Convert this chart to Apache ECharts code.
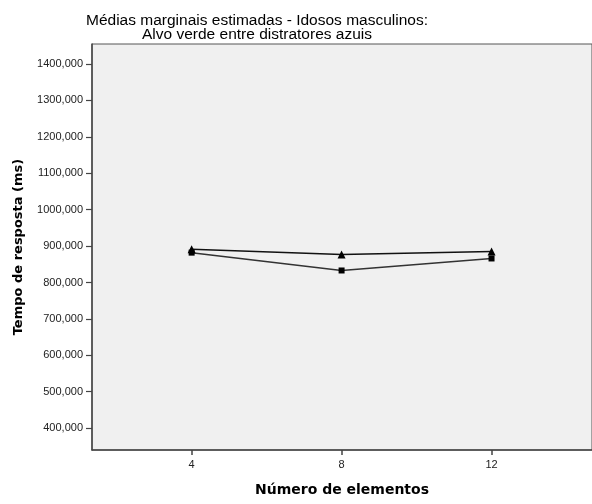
<!DOCTYPE html>
<html>
<head>
<meta charset="utf-8">
<script src="https://cdn.jsdelivr.net/npm/echarts@6/dist/echarts.min.js"></script>
<style>
  html, body { margin: 0; padding: 0; background: #fff; }
  #chart { width: 592px; height: 504px; }
</style>
</head>
<body>
<div id="chart"></div>
<script>
// Number of elements on screen
const elementCounts = [4, 8, 12];
// Estimated marginal means of response time (ms), one line per group
const seriesTriangle = [891, 877, 885];
const seriesSquare = [882, 833, 866];
// Axis ticks
const yTicks = [400, 500, 600, 700, 800, 900, 1000, 1100, 1200, 1300, 1400];
const xTicks = [4, 8, 12];

const fmt = v => v + ',000';
const chart = echarts.init(document.getElementById('chart'));

chart.setOption({
  animation: false,
  backgroundColor: '#ffffff',
  title: {
    text: 'Médias marginais estimadas - Idosos masculinos:\nAlvo verde entre distratores azuis',
    left: 252,
    top: 9,
    textAlign: 'center',
    textStyle: {
      fontFamily: 'Liberation Sans, Arial, sans-serif',
      fontSize: 15.5,
      fontWeight: 'normal',
      color: '#000',
      lineHeight: 14
    }
  },
  grid: {
    left: 92, right: -2, top: 44, bottom: 54,
    show: true,
    backgroundColor: '#f0f0f0',
    borderColor: '#555',
    borderWidth: 1
  },
  xAxis: {
    type: 'value',
    min: 1.342,
    max: 14.68,
    name: 'Número de elementos',
    nameLocation: 'middle',
    nameGap: 33,
    nameTextStyle: {
      fontFamily: 'DejaVu Sans, sans-serif',
      fontSize: 14,
      fontWeight: 'bold',
      color: '#000'
    },
    splitLine: { show: false },
    axisLine: { show: true, lineStyle: { color: '#444', width: 1.5 } },
    axisTick: { show: true, customValues: xTicks, length: 5, lineStyle: { color: '#444', width: 1.5 } },
    axisLabel: {
      customValues: xTicks,
      margin: 9,
      fontFamily: 'Liberation Sans, Arial, sans-serif',
      fontSize: 11,
      color: '#222'
    }
  },
  yAxis: {
    type: 'value',
    min: 340,
    max: 1455,
    name: 'Tempo de resposta (ms)',
    nameLocation: 'middle',
    nameGap: 67,
    nameTextStyle: {
      fontFamily: 'DejaVu Sans, sans-serif',
      fontSize: 13,
      fontWeight: 'bold',
      color: '#000'
    },
    splitLine: { show: false },
    axisLine: { show: true, lineStyle: { color: '#444', width: 1.5 } },
    axisTick: { show: true, customValues: yTicks, length: 6, lineStyle: { color: '#444', width: 1.2 } },
    axisLabel: {
      customValues: yTicks,
      formatter: fmt,
      margin: 9,
      fontFamily: 'Liberation Sans, Arial, sans-serif',
      fontSize: 11,
      color: '#222'
    }
  },
  series: [
    {
      type: 'line',
      data: elementCounts.map((x, i) => [x, seriesSquare[i]]),
      symbol: 'rect',
      symbolSize: 6,
      lineStyle: { color: '#333', width: 1.5 },
      itemStyle: { color: '#000' }
    },
    {
      type: 'line',
      data: elementCounts.map((x, i) => [x, seriesTriangle[i]]),
      symbol: 'triangle',
      symbolSize: 8,
      lineStyle: { color: '#111', width: 1.5 },
      itemStyle: { color: '#000' }
    }
  ]
});
</script>
</body>
</html>
